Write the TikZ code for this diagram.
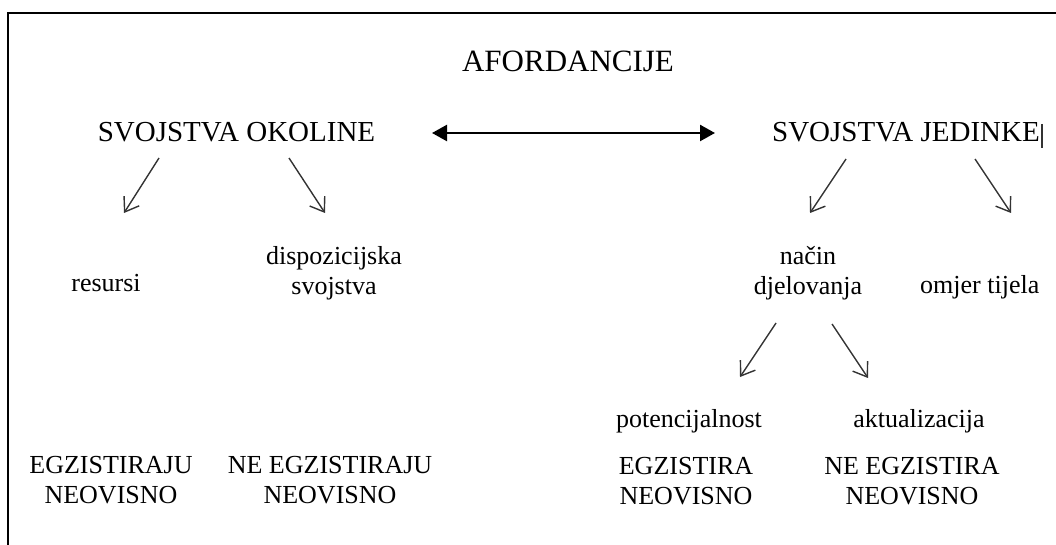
\documentclass[tikz,border=0pt]{standalone}
\usepackage{fontspec}
\setmainfont{Liberation Serif}
\usetikzlibrary{arrows.meta}
\begin{document}
\begin{tikzpicture}[x=1pt,y=-1pt,
  big/.style={font=\fontsize{31}{34}\selectfont, inner sep=0pt, anchor=base},
  head/.style={font=\fontsize{29}{32}\selectfont, inner sep=0pt, anchor=base},
  lbl/.style={font=\fontsize{26}{29.5}\selectfont, inner sep=0pt, anchor=base, align=center},
  thinarr/.style={draw=black!80, line width=1.4pt, -{Straight Barb[length=13pt,width=18pt,line width=1.4pt]}},
  dblarr/.style={draw=black, line width=2.4pt, {Triangle[length=15pt,width=16pt]}-{Triangle[length=15pt,width=16pt]}},
  frame/.style={draw=black, line width=2pt}]
\useasboundingbox (0,0) rectangle (1056,545);
% frame
\coordinate (fbl) at (8,546);
\coordinate (ftl) at (8,13);
\coordinate (ftr) at (1057,13);
\draw[frame] (fbl) -- (ftl) -- (ftr);
% texts (multi-line nodes: base = baseline of last line)
\node[big] (afo) at (568,72) {AFORDANCIJE};
\node[head] (okol) at (236.5,142) {SVOJSTVA OKOLINE};
\node[head] (jed) at (906,142) {SVOJSTVA JEDINKE};
\node[lbl] (res) at (106,291) {resursi};
\node[lbl] (disp) at (334,294) {dispozicijska\\svojstva};
\node[lbl] (nac) at (808,294) {način\\djelovanja};
\node[lbl, anchor=base west] (omj) at (920,293) {omjer tijela};
\node[lbl] (pot) at (689,427) {potencijalnost};
\node[lbl] (akt) at (919,427) {aktualizacija};
\node[lbl] (e1) at (111,503) {EGZISTIRAJU\\NEOVISNO};
\node[lbl] (e2) at (330,503) {NE EGZISTIRAJU\\NEOVISNO};
\node[lbl] (e3) at (686,504) {EGZISTIRA\\NEOVISNO};
\node[lbl] (e4) at (912,504) {NE EGZISTIRA\\NEOVISNO};
% cursor
\coordinate (cur1) at (1042,124);
\coordinate (cur2) at (1042,148);
\draw[line width=1.3pt, black!80] (cur1) -- (cur2);
% connector ends
\coordinate (dA) at (432,133);
\coordinate (dB) at (715,133);
\coordinate (o1s) at (159,158); \coordinate (o1e) at (124,213);
\coordinate (o2s) at (289,158); \coordinate (o2e) at (325,213);
\coordinate (j1s) at (846,159); \coordinate (j1e) at (810,213);
\coordinate (j2s) at (975,159); \coordinate (j2e) at (1011,213);
\coordinate (n1s) at (776,323); \coordinate (n1e) at (740,377);
\coordinate (n2s) at (832,324); \coordinate (n2e) at (868,378);
% connectors
\draw[dblarr] (dA) -- (dB);
\draw[thinarr] (o1s) -- (o1e);
\draw[thinarr] (o2s) -- (o2e);
\draw[thinarr] (j1s) -- (j1e);
\draw[thinarr] (j2s) -- (j2e);
\draw[thinarr] (n1s) -- (n1e);
\draw[thinarr] (n2s) -- (n2e);
\end{tikzpicture}
\end{document}
